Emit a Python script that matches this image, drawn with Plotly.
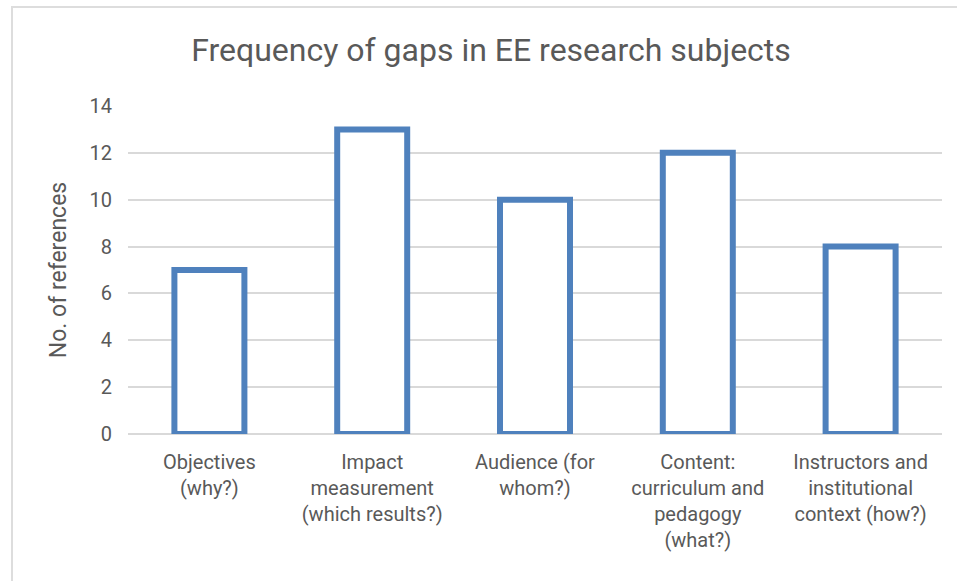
import plotly.graph_objects as go

categories = [
    "Objectives<br>(why?)",
    "Impact<br>measurement<br>(which results?)",
    "Audience (for<br>whom?)",
    "Content:<br>curriculum and<br>pedagogy<br>(what?)",
    "Instructors and<br>institutional<br>context (how?)",
]
references = [7, 13, 10, 12, 8]
y_ticks = [0, 2, 4, 6, 8, 10, 12, 14]

BLUE = "#4F81BD"
GRID = "#D9D9D9"
TEXT = "#595959"
FONT = "Roboto, Arial"

fig = go.Figure(
    go.Bar(
        x=categories,
        y=references,
        marker=dict(color="white", line=dict(color=BLUE, width=6)),
        width=0.43,
    )
)

L, R, T, B = 128, 15, 106, 147
W, H = 957, 581
pw, ph = W - L - R, H - T - B

def px(x):
    return (x - L) / pw

def py(y):
    return (H - B - y) / ph

fig.update_layout(
    width=W,
    height=H,
    margin=dict(l=L, r=R, t=T, b=B),
    paper_bgcolor="white",
    plot_bgcolor="white",
    font=dict(family=FONT, color=TEXT, size=18),
    title=dict(
        text="Frequency of gaps in EE research subjects",
        x=px(491), xref="paper", xanchor="center",
        y=1 - 50 / H, yanchor="middle",
        font=dict(size=32, color=TEXT, family=FONT),
    ),
    showlegend=False,
    shapes=[
        dict(type="rect", xref="paper", yref="paper",
             x0=px(12), x1=px(980), y0=py(7), y1=py(620),
             line=dict(color="#DDDDDD", width=2), fillcolor="rgba(0,0,0,0)", layer="below"),
    ],
)
fig.update_yaxes(
    range=[0, 14],
    tickvals=y_ticks,
    showgrid=True,
    gridcolor=GRID,
    gridwidth=2,
    zeroline=True,
    zerolinecolor=GRID,
    zerolinewidth=2,
    ticklabelstandoff=15,
    tickfont=dict(size=20, color=TEXT),
    title=dict(text="No. of references", font=dict(size=23, color=TEXT), standoff=16),
)
fig.update_xaxes(
    showgrid=False,
    tickfont=dict(size=20, color=TEXT),
    ticklabelstandoff=14,
)

fig.write_html("out.html")
